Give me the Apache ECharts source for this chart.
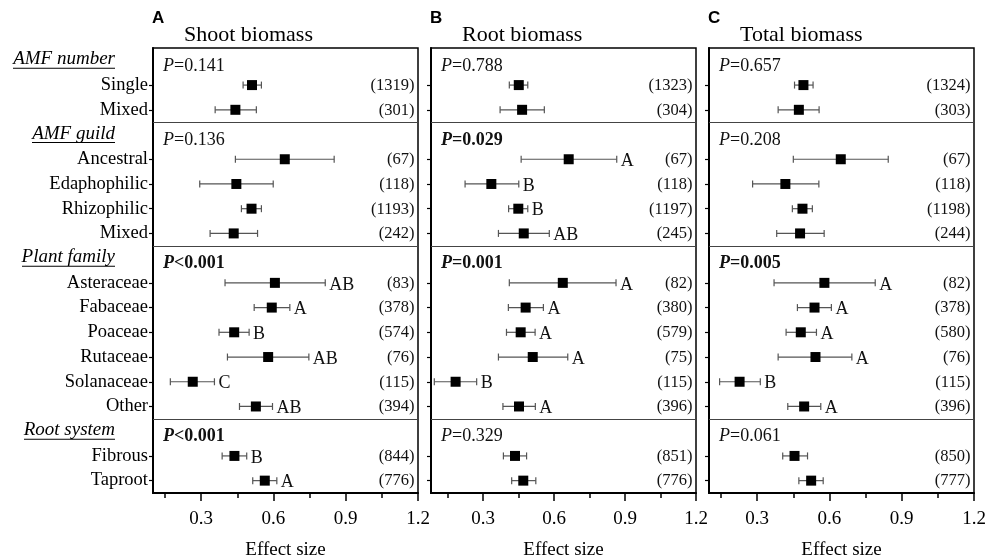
<!DOCTYPE html>
<html><head><meta charset="utf-8">
<script src="https://cdn.jsdelivr.net/npm/echarts@6/dist/echarts.min.js"></script>
<style>html,body{margin:0;padding:0;background:#fff}#c{width:987px;height:559px}</style>
</head><body><div id="c"></div>
<script>
// ---------- data ----------
const rowLabels = ['AMF number','Single','Mixed','AMF guild','Ancestral','Edaphophilic','Rhizophilic','Mixed',
  'Plant family','Asteraceae','Fabaceae','Poaceae','Rutaceae','Solanaceae','Other','Root system','Fibrous','Taproot'];
const headerRows = [0, 3, 8, 15];
const dataRows = [1, 2, 4, 5, 6, 7, 9, 10, 11, 12, 13, 14, 16, 17];
const panelTitles = ['Shoot biomass', 'Root biomass', 'Total biomass'];
const panelLetters = ['A', 'B', 'C'];
const xTickLabels = [0.3, 0.6, 0.9, 1.2];
const xMinorTicks = [0.15, 0.45, 0.75, 1.05];
const xMin = [0.1, 0.08, 0.1];
const xMax = 1.2;

const shootMean = [0.511,0.442,0.647,0.446,0.509,0.435,0.606,0.593,0.437,0.578,0.265,0.527,0.438,0.564];
const shootLow  = [0.474,0.358,0.442,0.294,0.467,0.337,0.399,0.520,0.374,0.409,0.172,0.459,0.387,0.514];
const shootHigh = [0.550,0.529,0.852,0.599,0.550,0.534,0.815,0.668,0.499,0.747,0.355,0.596,0.489,0.614];
const shootN    = [1319,301,67,118,1193,242,83,378,574,76,115,394,844,776];
const shootLetters = ['','','','','','','AB','A','B','AB','C','AB','B','A'];
const shootP = ['=0.141','=0.136','<0.001','<0.001'];
const shootPBold = [false,false,true,true];

const rootMean = [0.451,0.465,0.662,0.335,0.449,0.472,0.637,0.480,0.459,0.510,0.184,0.452,0.435,0.470];
const rootLow  = [0.411,0.372,0.461,0.224,0.408,0.365,0.411,0.407,0.399,0.365,0.094,0.384,0.386,0.421];
const rootHigh = [0.489,0.559,0.865,0.451,0.489,0.580,0.862,0.555,0.520,0.658,0.273,0.521,0.484,0.523];
const rootN    = [1323,304,67,118,1197,245,82,380,579,75,115,396,851,776];
const rootLetters = ['','','A','B','B','AB','A','A','A','A','B','A','',''];
const rootP = ['=0.788','=0.029','=0.001','=0.329'];
const rootPBold = [false,true,true,false];

const totalMean = [0.492,0.473,0.647,0.417,0.488,0.478,0.579,0.538,0.481,0.542,0.227,0.495,0.455,0.524];
const totalLow  = [0.455,0.387,0.450,0.281,0.446,0.381,0.370,0.467,0.420,0.387,0.144,0.427,0.406,0.473];
const totalHigh = [0.532,0.557,0.844,0.556,0.529,0.578,0.790,0.608,0.546,0.693,0.313,0.564,0.509,0.574];
const totalN    = [1324,303,67,118,1198,244,82,378,580,76,115,396,850,777];
const totalLetters = ['','','','','','','A','A','A','A','B','A','',''];
const totalP = ['=0.657','=0.208','=0.005','=0.061'];
const totalPBold = [false,false,true,false];

// ---------- build ----------
const SERIF = '"Liberation Serif", "Times New Roman", serif';
const panels = [
  {mean: shootMean, low: shootLow, high: shootHigh, n: shootN, letters: shootLetters, p: shootP, pb: shootPBold},
  {mean: rootMean, low: rootLow, high: rootHigh, n: rootN, letters: rootLetters, p: rootP, pb: rootPBold},
  {mean: totalMean, low: totalLow, high: totalHigh, n: totalN, letters: totalLetters, p: totalP, pb: totalPBold}
];
const gridLeft = [153, 431, 709];
const GRID_TOP = 48, GRID_H = 445, GRID_W = 265;

const ctx = document.createElement('canvas').getContext('2d');
ctx.font = 'italic 19px "Liberation Serif"';
const headerRich = {
  h: {fontStyle: 'italic', fontSize: 19, fontFamily: SERIF, color: '#000', lineHeight: 16},
  sp: {width: 33, lineHeight: 2, height: 1},
  r: {fontSize: 18.5, fontFamily: SERIF, color: '#000'}
};
headerRows.forEach((r, k) => {
  headerRich['u' + k] = {width: Math.round(ctx.measureText(rowLabels[r]).width), height: 1, lineHeight: 2, backgroundColor: '#000'};
});

const grids = [], xAxes = [], yAxes = [], series = [], titles = [];
panels.forEach((p, g) => {
  grids.push({left: gridLeft[g], top: GRID_TOP, width: GRID_W, height: GRID_H, show: true,
    borderColor: '#000', borderWidth: 1.5, backgroundColor: 'transparent', containLabel: false,
    outerBoundsMode: 'none'});
  xAxes.push({gridIndex: g, type: 'value', min: xMin[g], max: xMax, position: 'bottom',
    axisLine: {show: true, onZero: false, lineStyle: {color: '#000', width: 2}},
    axisTick: {show: true, customValues: xTickLabels, length: 8, lineStyle: {color: '#000', width: 1.5}},
    axisLabel: {show: true, customValues: xTickLabels, margin: 17, fontFamily: SERIF, fontSize: 19, color: '#000',
      formatter: v => Number(v).toFixed(1)},
    splitLine: {show: false},
    name: 'Effect size', nameLocation: 'middle', nameGap: 48,
    nameTextStyle: {fontFamily: SERIF, fontSize: 19, color: '#000'}});
  xAxes.push({gridIndex: g, type: 'value', min: xMin[g], max: xMax, position: 'bottom',
    axisLine: {show: false},
    axisTick: {show: true, customValues: xMinorTicks, length: 5, lineStyle: {color: '#000', width: 1.5}},
    axisLabel: {show: false}, splitLine: {show: false}});
  yAxes.push({gridIndex: g, type: 'category', data: rowLabels, inverse: true, boundaryGap: true,
    axisLine: {show: true, lineStyle: {color: '#000', width: 2}},
    axisTick: {show: true, alignWithLabel: true, length: 4, lineStyle: {color: '#000', width: 1.2},
      interval: (idx) => dataRows.indexOf(idx) >= 0},
    axisLabel: {show: g === 0, interval: 0, margin: 5, fontFamily: SERIF, fontSize: 18.5, color: '#000',
      formatter: function (value, idx) {
        const k = headerRows.indexOf(idx);
        if (k >= 0) return '{h|' + value + '}{sp|}\n{u' + k + '|}{sp|}';
        return '{r|' + value + '}';
      }, rich: headerRich},
    splitLine: {show: false}});

  // error bars, group letters, sample sizes
  series.push({type: 'custom', xAxisIndex: g * 2, yAxisIndex: g, silent: true, z: 2,
    data: dataRows.map((r, i) => [r, p.low[i], p.high[i]]),
    encode: {x: [1, 2], y: 0},
    renderItem: function (params, api) {
      const i = params.dataIndex;
      const row = api.value(0);
      const a = api.coord([api.value(1), row]);
      const b = api.coord([api.value(2), row]);
      const cs = params.coordSys;
      const c = 3.5;
      const ls = {stroke: '#555', lineWidth: 1.2};
      const children = [
        {type: 'line', shape: {x1: a[0], y1: a[1], x2: b[0], y2: b[1]}, style: ls},
        {type: 'line', shape: {x1: a[0], y1: a[1] - c, x2: a[0], y2: a[1] + c}, style: ls},
        {type: 'line', shape: {x1: b[0], y1: b[1] - c, x2: b[0], y2: b[1] + c}, style: ls},
        {type: 'text', style: {text: '(' + p.n[i] + ')', x: cs.x + cs.width - 3.5, y: a[1] + 0.5,
          align: 'right', verticalAlign: 'middle', font: '16.5px ' + SERIF, fill: '#111'}}
      ];
      if (p.letters[i]) {
        children.push({type: 'text', style: {text: p.letters[i], x: b[0] + 4, y: b[1] + 2,
          align: 'left', verticalAlign: 'middle', font: '18px ' + SERIF, fill: '#111'}});
      }
      return {type: 'group', children: children};
    }});

  // group separators and P values
  series.push({type: 'custom', xAxisIndex: g * 2, yAxisIndex: g, silent: true, z: 2,
    data: headerRows.map((r) => [xMin[g], r]),
    encode: {x: 0, y: 1},
    renderItem: function (params, api) {
      const k = params.dataIndex;
      const row = api.value(1);
      const pt = api.coord([api.value(0), row]);
      const bandH = api.size([0, 1])[1];
      const cs = params.coordSys;
      const children = [];
      if (k > 0) {
        const y = Math.round(pt[1] - bandH / 2) + 0.5;
        children.push({type: 'line', shape: {x1: cs.x, y1: y, x2: cs.x + cs.width, y2: y},
          style: {stroke: '#444', lineWidth: 1}});
      }
      const bold = p.pb[k];
      children.push({type: 'text', style: {
        text: '{i|P}{t|' + p.p[k] + '}', x: cs.x + 10, y: pt[1] + 5.5, align: 'left', verticalAlign: 'middle',
        rich: {
          i: {fontStyle: 'italic', fontWeight: bold ? 'bold' : 'normal', fontSize: 18, fontFamily: SERIF, fill: '#111'},
          t: {fontWeight: bold ? 'bold' : 'normal', fontSize: 18, fontFamily: SERIF, fill: '#111'}
        }}});
      return {type: 'group', children: children};
    }});

  // mean squares
  series.push({type: 'scatter', xAxisIndex: g * 2, yAxisIndex: g, silent: true, z: 3,
    symbol: 'rect', symbolSize: 10, itemStyle: {color: '#000', opacity: 1},
    data: dataRows.map((r, i) => [p.mean[i], r])});

  titles.push({text: panelTitles[g], left: gridLeft[g] + 31, top: 24, padding: 0,
    textStyle: {fontFamily: SERIF, fontSize: 22, fontWeight: 'normal', color: '#000'}});
  titles.push({text: panelLetters[g], left: gridLeft[g] - 1, top: 10, padding: 0,
    textStyle: {fontFamily: '"Liberation Sans", Arial, sans-serif', fontSize: 17, fontWeight: 'bold', color: '#000'}});
});

const chart = echarts.init(document.getElementById('c'), null, {renderer: 'canvas'});
chart.setOption({
  animation: false,
  backgroundColor: '#fff',
  title: titles,
  grid: grids,
  xAxis: xAxes,
  yAxis: yAxes,
  series: series
});
</script></body></html>
